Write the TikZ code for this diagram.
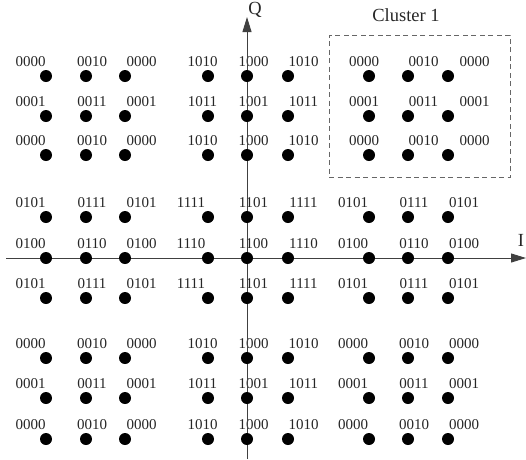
\documentclass[tikz,border=0pt]{standalone}
\usepackage{fontspec}
\setmainfont{Liberation Serif}
\usetikzlibrary{arrows.meta}
\def\offA{-15.5,6,16.5,-5.5,6.5,15.5,-5,15.5,26.5}
\def\offB{-15.5,6,16.5,-17,6.5,15.5,-16,6,16}
\def\offC{-15.5,6,16.5,-5.5,6.5,15.5,-16,6,16}
\def\rowA{0000,0010,0000,1010,1000,1010,0000,0010,0000}
\def\rowB{0001,0011,0001,1011,1001,1011,0001,0011,0001}
\def\rowC{0101,0111,0101,1111,1101,1111,0101,0111,0101}
\def\rowD{0100,0110,0100,1110,1100,1110,0100,0110,0100}
\begin{document}
\begin{tikzpicture}[x=1pt,y=-1pt,
  dot/.style={circle,fill=black,inner sep=0pt,minimum size=12pt},
  lbl/.style={inner sep=0pt,font=\fontsize{15}{16}\selectfont,text=black!85},
  biglbl/.style={inner sep=0pt,font=\fontsize{18.5}{20}\selectfont,text=black!85},
  axis/.style={draw=black!75,line width=1pt,-{Triangle[length=15pt,width=9pt]}},
  clusterbox/.style={draw=black!60,dashed,dash pattern=on 5pt off 3.5pt,line width=0.8pt,inner sep=0pt,minimum width=181pt,minimum height=142pt}]
\useasboundingbox (0,0) rectangle (526,459);
% labels
\foreach \r/\labs/\offs in {1/\rowA/\offA,2/\rowB/\offA,3/\rowA/\offA,
                           4/\rowC/\offB,5/\rowD/\offB,6/\rowC/\offB,
                           7/\rowA/\offC,8/\rowB/\offC,9/\rowA/\offC}{
  \edef\lablist{\labs}
  \edef\offlist{\offs}
  \foreach \t [count=\col] in \lablist {
    \pgfmathsetmacro\dx{{\offlist}[\col-1]}
    \pgfmathsetmacro\yy{{76,116,155,217,258,298,358,398,439}[\r-1]}
    \pgfmathsetmacro\xx{{46,86,125,208,247,288,369,408,448}[\col-1]}
    \node[lbl] (l\r\col) at (\xx+\dx,\yy-14.5) {\t};
  }
}
% axes
\coordinate (xs) at (6,258);
\coordinate (xe) at (526,258);
\coordinate (ys) at (247,459);
\coordinate (ye) at (247,17);
\draw[axis] (xs) -- (xe);
\draw[axis] (ys) -- (ye);
\node[biglbl] (I) at (521,240) {I};
\node[biglbl] (Q) at (255,10) {Q};
% cluster
\node[clusterbox] (cluster) at (419.5,106) {};
\node[biglbl] (clab) at (406,15) {Cluster 1};
% dots
\foreach \r/\y in {1/76,2/116,3/155,4/217,5/258,6/298,7/358,8/398,9/439}
  \foreach \c/\x in {1/46,2/86,3/125,4/208,5/247,6/288,7/369,8/408,9/448}
    \node[dot] (d\r\c) at (\x,\y) {};
\end{tikzpicture}
\end{document}
